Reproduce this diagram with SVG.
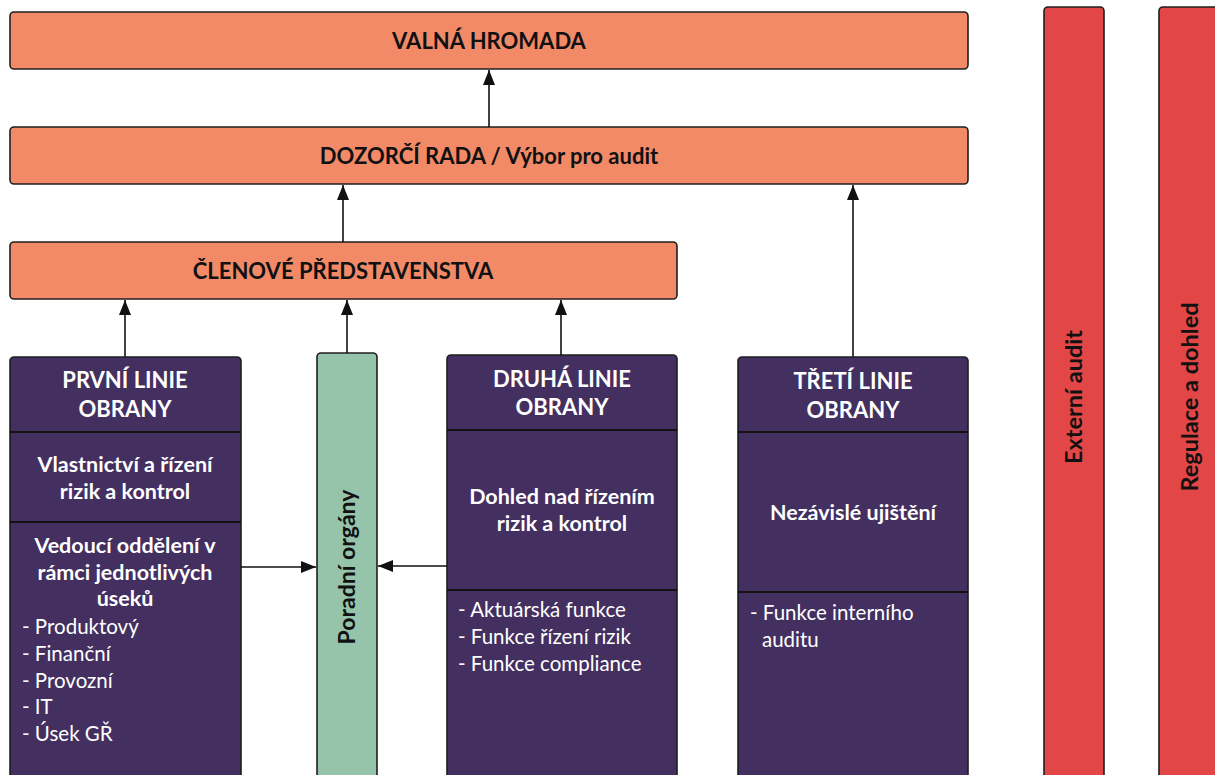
<svg xmlns="http://www.w3.org/2000/svg" width="1215" height="775" viewBox="0 0 1215 775">
  <style>
    .org { fill: #F28A68; stroke: #1f1f1f; stroke-width: 1.6; }
    .line { fill: #432F60; stroke: #1f1f1f; stroke-width: 1.6; }
    .adv { fill: #96C4AB; stroke: #1f1f1f; stroke-width: 1.6; }
    .ext { fill: #E34646; stroke: #1f1f1f; stroke-width: 1.6; }
    .div { stroke: #111; stroke-width: 2; }
    .conn { stroke: #111; stroke-width: 1.6; fill: none; marker-end: url(#head); }
    text { font-family: "Lato", "Liberation Sans", sans-serif; }
    .hd { font-weight: 700; font-size: 22px; fill: #111; text-anchor: middle; }
    .wt { font-weight: 700; font-size: 22px; fill: #fff; text-anchor: middle; }
    .sub { font-weight: 700; font-size: 21.5px; fill: #fff; text-anchor: middle; }
    .li { font-weight: 400; font-size: 20.5px; fill: #fff; }
    .vt { font-weight: 700; font-size: 23px; fill: #111; text-anchor: middle; }
    .vx { font-weight: 700; font-size: 23.5px; fill: #111; text-anchor: middle; }
  </style>
  <defs>
    <!-- filled triangular arrowhead, tip at the line end -->
    <marker id="head" markerUnits="userSpaceOnUse" markerWidth="15" markerHeight="12" viewBox="0 0 15 12" refX="15" refY="6" orient="auto">
      <path d="M0,0 L15,6 L0,12 Z" fill="#111"/>
    </marker>
  </defs>

  <!-- governance bodies -->
  <g id="valna-hromada">
    <rect class="org" x="10" y="12" width="958" height="57" rx="4"/>
    <text class="hd" x="489" y="49">VALNÁ HROMADA</text>
  </g>
  <g id="dozorci-rada">
    <rect class="org" x="10" y="127" width="958" height="57" rx="4"/>
    <text class="hd" x="489" y="164">DOZORČÍ RADA / Výbor pro audit</text>
  </g>
  <g id="predstavenstvo">
    <rect class="org" x="10" y="242" width="667" height="57" rx="4"/>
    <text class="hd" x="343" y="279">ČLENOVÉ PŘEDSTAVENSTVA</text>
  </g>

  <!-- first line of defence -->
  <g id="prvni-linie">
    <rect class="line" x="10" y="357" width="231" height="440" rx="4"/>
    <line class="div" x1="10" y1="432" x2="241" y2="432"/>
    <line class="div" x1="10" y1="522" x2="241" y2="522"/>
    <text class="wt" x="125" y="388">PRVNÍ LINIE</text>
    <text class="wt" x="125" y="417">OBRANY</text>
    <text class="sub" x="125" y="472">Vlastnictví a řízení</text>
    <text class="sub" x="125" y="499">rizik a kontrol</text>
    <text class="sub" x="125" y="553">Vedoucí oddělení v</text>
    <text class="sub" x="125" y="580">rámci jednotlivých</text>
    <text class="sub" x="125" y="606">úseků</text>
    <text class="li" x="22" y="634">- Produktový</text>
    <text class="li" x="22" y="661">- Finanční</text>
    <text class="li" x="22" y="688">- Provozní</text>
    <text class="li" x="22" y="714">- IT</text>
    <text class="li" x="22" y="741">- Úsek GŘ</text>
  </g>

  <!-- advisory bodies -->
  <g id="poradni-organy">
    <rect class="adv" x="317" y="353" width="60" height="440" rx="4"/>
    <text class="vt" transform="translate(355,567) rotate(-90)">Poradní orgány</text>
  </g>

  <!-- second line of defence -->
  <g id="druha-linie">
    <rect class="line" x="447" y="355" width="230" height="440" rx="4"/>
    <line class="div" x1="447" y1="430" x2="677" y2="430"/>
    <line class="div" x1="447" y1="590" x2="677" y2="590"/>
    <text class="wt" x="562" y="387">DRUHÁ LINIE</text>
    <text class="wt" x="562" y="415">OBRANY</text>
    <text class="sub" x="562" y="504">Dohled nad řízením</text>
    <text class="sub" x="562" y="531">rizik a kontrol</text>
    <text class="li" x="458" y="617">- Aktuárská funkce</text>
    <text class="li" x="458" y="644">- Funkce řízení rizik</text>
    <text class="li" x="458" y="671">- Funkce compliance</text>
  </g>

  <!-- third line of defence -->
  <g id="treti-linie">
    <rect class="line" x="738" y="357" width="230" height="440" rx="4"/>
    <line class="div" x1="738" y1="432" x2="968" y2="432"/>
    <line class="div" x1="738" y1="592" x2="968" y2="592"/>
    <text class="wt" x="853" y="389">TŘETÍ LINIE</text>
    <text class="wt" x="853" y="418">OBRANY</text>
    <text class="sub" x="853" y="520">Nezávislé ujištění</text>
    <text class="li" x="750" y="620">- Funkce interního</text>
    <text class="li" x="762" y="647">auditu</text>
  </g>

  <!-- external parties -->
  <g id="externi-audit">
    <rect class="ext" x="1044" y="7" width="60" height="790" rx="4"/>
    <text class="vx" transform="translate(1082,397) rotate(-90)">Externí audit</text>
  </g>
  <g id="regulace-dohled">
    <rect class="ext" x="1159" y="7" width="80" height="790" rx="4"/>
    <text class="vx" transform="translate(1198,397) rotate(-90)">Regulace a dohled</text>
  </g>

  <!-- reporting lines -->
  <g id="connectors">
    <line class="conn" x1="489" y1="127" x2="489" y2="70"/>
    <line class="conn" x1="343" y1="242" x2="343" y2="185"/>
    <line class="conn" x1="853" y1="357" x2="853" y2="185"/>
    <line class="conn" x1="125" y1="357" x2="125" y2="300"/>
    <line class="conn" x1="347" y1="353" x2="347" y2="300"/>
    <line class="conn" x1="561" y1="355" x2="561" y2="300"/>
    <line class="conn" x1="241" y1="567" x2="316" y2="567"/>
    <line class="conn" x1="447" y1="566" x2="378" y2="566"/>
  </g>
</svg>
